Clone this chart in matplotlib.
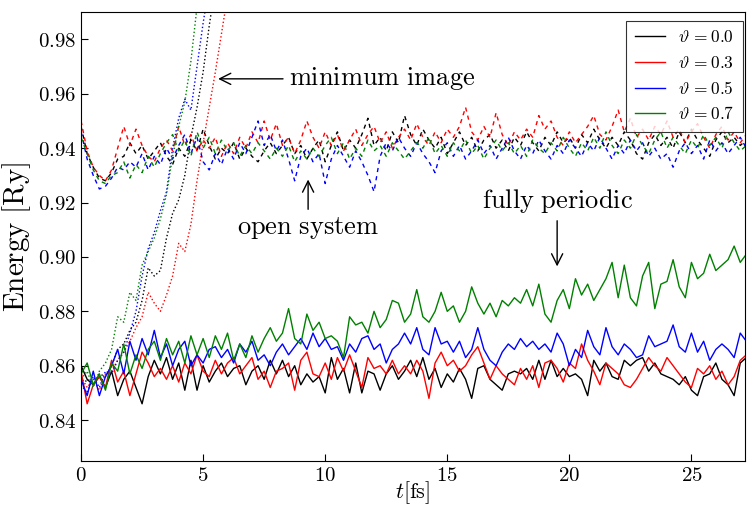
import matplotlib
matplotlib.use('Agg')
import matplotlib.pyplot as plt
from matplotlib.ticker import FuncFormatter
import numpy as np

plt.rcParams['mathtext.fontset'] = 'cm'
plt.rcParams['font.family'] = 'serif'

# time grid [fs], 0.25 fs steps
t = np.arange(110) * 0.25
t_min = np.arange(25) * 0.25

theta_labels = ['0.0', '0.3', '0.5', '0.7']
colors = ['black', 'red', 'blue', 'green']

# fully periodic (solid)
periodic_00 = [0.860, 0.855, 0.853, 0.856, 0.852, 0.858, 0.849, 0.855, 0.858, 0.852,
               0.846, 0.856, 0.862, 0.857, 0.863, 0.855, 0.861, 0.851, 0.862, 0.851,
               0.860, 0.854, 0.858, 0.861, 0.856, 0.859, 0.860, 0.853, 0.858, 0.860,
               0.855, 0.862, 0.857, 0.862, 0.856, 0.860, 0.853, 0.857, 0.854, 0.856,
               0.850, 0.863, 0.855, 0.859, 0.850, 0.861, 0.850, 0.858, 0.857, 0.851,
               0.857, 0.860, 0.855, 0.858, 0.862, 0.856, 0.863, 0.855, 0.859, 0.852,
               0.857, 0.854, 0.859, 0.855, 0.848, 0.859, 0.860, 0.855, 0.853, 0.851,
               0.857, 0.858, 0.857, 0.859, 0.855, 0.862, 0.855, 0.862, 0.856, 0.859,
               0.856, 0.857, 0.855, 0.849, 0.862, 0.858, 0.861, 0.856, 0.855, 0.862,
               0.860, 0.862, 0.863, 0.858, 0.861, 0.857, 0.856, 0.855, 0.853, 0.856,
               0.851, 0.849, 0.856, 0.857, 0.861, 0.855, 0.853, 0.849, 0.861, 0.863]
periodic_03 = [0.858, 0.846, 0.853, 0.856, 0.852, 0.862, 0.854, 0.858, 0.849, 0.857,
               0.865, 0.861, 0.856, 0.859, 0.855, 0.860, 0.854, 0.861, 0.857, 0.864,
               0.858, 0.856, 0.862, 0.857, 0.861, 0.863, 0.857, 0.860, 0.863, 0.855,
               0.858, 0.852, 0.858, 0.859, 0.861, 0.851, 0.862, 0.865, 0.857, 0.856,
               0.861, 0.855, 0.863, 0.858, 0.864, 0.858, 0.852, 0.863, 0.859, 0.860,
               0.857, 0.862, 0.857, 0.860, 0.857, 0.862, 0.858, 0.848, 0.861, 0.865,
               0.860, 0.862, 0.858, 0.860, 0.864, 0.867, 0.861, 0.855, 0.860, 0.857,
               0.855, 0.853, 0.859, 0.855, 0.860, 0.852, 0.861, 0.862, 0.859, 0.854,
               0.861, 0.859, 0.868, 0.862, 0.858, 0.853, 0.861, 0.859, 0.857, 0.853,
               0.852, 0.855, 0.859, 0.863, 0.860, 0.858, 0.863, 0.860, 0.857, 0.854,
               0.852, 0.859, 0.857, 0.860, 0.855, 0.858, 0.853, 0.856, 0.862, 0.864]
periodic_05 = [0.855, 0.849, 0.858, 0.849, 0.856, 0.860, 0.866, 0.857, 0.869, 0.862,
               0.870, 0.864, 0.873, 0.863, 0.868, 0.860, 0.866, 0.869, 0.860, 0.864,
               0.861, 0.866, 0.867, 0.863, 0.866, 0.861, 0.868, 0.865, 0.869, 0.862,
               0.864, 0.860, 0.865, 0.868, 0.864, 0.867, 0.870, 0.866, 0.872, 0.867,
               0.870, 0.866, 0.867, 0.862, 0.868, 0.865, 0.870, 0.871, 0.866, 0.868,
               0.861, 0.866, 0.868, 0.872, 0.868, 0.874, 0.866, 0.864, 0.874, 0.868,
               0.869, 0.865, 0.869, 0.863, 0.866, 0.874, 0.866, 0.862, 0.860, 0.865,
               0.868, 0.866, 0.870, 0.867, 0.869, 0.866, 0.868, 0.865, 0.872, 0.868,
               0.860, 0.866, 0.863, 0.873, 0.867, 0.864, 0.874, 0.867, 0.864, 0.868,
               0.866, 0.863, 0.864, 0.871, 0.867, 0.868, 0.869, 0.875, 0.867, 0.865,
               0.872, 0.865, 0.869, 0.862, 0.866, 0.868, 0.866, 0.863, 0.872, 0.869]
periodic_07 = [0.857, 0.861, 0.853, 0.857, 0.851, 0.861, 0.858, 0.868, 0.857, 0.864,
               0.859, 0.866, 0.869, 0.862, 0.870, 0.864, 0.869, 0.861, 0.871, 0.864,
               0.870, 0.863, 0.871, 0.866, 0.872, 0.862, 0.868, 0.863, 0.871, 0.865,
               0.870, 0.874, 0.869, 0.872, 0.881, 0.870, 0.868, 0.879, 0.873, 0.876,
               0.870, 0.871, 0.869, 0.863, 0.878, 0.875, 0.876, 0.872, 0.880, 0.874,
               0.877, 0.884, 0.883, 0.876, 0.879, 0.888, 0.878, 0.876, 0.880, 0.887,
               0.880, 0.882, 0.876, 0.880, 0.889, 0.883, 0.879, 0.883, 0.878, 0.884,
               0.882, 0.885, 0.883, 0.888, 0.882, 0.890, 0.879, 0.876, 0.884, 0.888,
               0.881, 0.892, 0.886, 0.890, 0.884, 0.888, 0.892, 0.898, 0.885, 0.897,
               0.885, 0.882, 0.893, 0.898, 0.881, 0.890, 0.891, 0.899, 0.889, 0.885,
               0.898, 0.892, 0.894, 0.901, 0.895, 0.897, 0.899, 0.904, 0.898, 0.901]

# open system (dashed)
open_00 = [0.948, 0.938, 0.933, 0.929, 0.928, 0.931, 0.936, 0.937, 0.942, 0.938,
           0.941, 0.936, 0.939, 0.942, 0.937, 0.934, 0.940, 0.937, 0.943, 0.939,
           0.947, 0.941, 0.936, 0.940, 0.938, 0.942, 0.936, 0.940, 0.937, 0.935,
           0.939, 0.942, 0.938, 0.941, 0.944, 0.938, 0.941, 0.936, 0.940, 0.943,
           0.935, 0.941, 0.946, 0.939, 0.943, 0.940, 0.945, 0.951, 0.941, 0.944,
           0.939, 0.946, 0.942, 0.952, 0.945, 0.941, 0.947, 0.943, 0.940, 0.944,
           0.938, 0.942, 0.946, 0.941, 0.944, 0.939, 0.943, 0.945, 0.940, 0.943,
           0.939, 0.944, 0.941, 0.946, 0.942, 0.939, 0.944, 0.941, 0.946, 0.942,
           0.944, 0.940, 0.945, 0.942, 0.947, 0.943, 0.940, 0.944, 0.941, 0.946,
           0.943, 0.938, 0.936, 0.942, 0.945, 0.941, 0.944, 0.940, 0.946, 0.942,
           0.947, 0.943, 0.940, 0.937, 0.943, 0.946, 0.942, 0.944, 0.941, 0.943]
open_03 = [0.950, 0.939, 0.933, 0.930, 0.928, 0.932, 0.940, 0.948, 0.941, 0.947,
           0.941, 0.937, 0.935, 0.940, 0.943, 0.939, 0.948, 0.941, 0.945, 0.939,
           0.943, 0.940, 0.944, 0.937, 0.942, 0.938, 0.944, 0.940, 0.946, 0.942,
           0.950, 0.943, 0.949, 0.941, 0.944, 0.938, 0.943, 0.950, 0.944, 0.940,
           0.946, 0.941, 0.945, 0.939, 0.943, 0.947, 0.941, 0.945, 0.948, 0.942,
           0.946, 0.940, 0.944, 0.947, 0.943, 0.949, 0.944, 0.941, 0.946, 0.942,
           0.947, 0.944, 0.948, 0.955, 0.946, 0.943, 0.948, 0.944, 0.953, 0.945,
           0.941, 0.946, 0.943, 0.947, 0.944, 0.952, 0.947, 0.950, 0.944, 0.941,
           0.946, 0.942, 0.945, 0.948, 0.952, 0.945, 0.943, 0.948, 0.954, 0.946,
           0.951, 0.944, 0.947, 0.943, 0.948, 0.945, 0.950, 0.944, 0.947, 0.942,
           0.946, 0.949, 0.944, 0.940, 0.945, 0.948, 0.943, 0.946, 0.942, 0.945]
open_05 = [0.946, 0.936, 0.930, 0.925, 0.926, 0.929, 0.933, 0.932, 0.935, 0.933,
           0.938, 0.932, 0.937, 0.934, 0.940, 0.936, 0.941, 0.945, 0.938, 0.944,
           0.935, 0.932, 0.938, 0.934, 0.940, 0.936, 0.942, 0.938, 0.944, 0.950,
           0.941, 0.945, 0.939, 0.943, 0.936, 0.928, 0.937, 0.940, 0.935, 0.938,
           0.927, 0.936, 0.941, 0.937, 0.933, 0.939, 0.935, 0.930, 0.924, 0.937,
           0.942, 0.939, 0.944, 0.940, 0.937, 0.942, 0.938, 0.935, 0.931, 0.939,
           0.942, 0.937, 0.941, 0.936, 0.939, 0.943, 0.938, 0.941, 0.936, 0.940,
           0.944, 0.939, 0.936, 0.941, 0.938, 0.943, 0.939, 0.936, 0.941, 0.938,
           0.943, 0.940, 0.937, 0.942, 0.939, 0.944, 0.940, 0.936, 0.941, 0.938,
           0.943, 0.939, 0.942, 0.937, 0.940, 0.936, 0.938, 0.933, 0.939, 0.942,
           0.938, 0.941, 0.936, 0.943, 0.939, 0.942, 0.938, 0.941, 0.944, 0.940]
open_07 = [0.944, 0.938, 0.932, 0.928, 0.927, 0.930, 0.931, 0.935, 0.929, 0.934,
           0.931, 0.937, 0.933, 0.938, 0.942, 0.945, 0.939, 0.943, 0.937, 0.946,
           0.940, 0.944, 0.938, 0.943, 0.939, 0.942, 0.937, 0.941, 0.938, 0.942,
           0.939, 0.936, 0.940, 0.937, 0.941, 0.935, 0.939, 0.936, 0.940, 0.937,
           0.941, 0.944, 0.938, 0.942, 0.936, 0.940, 0.937, 0.943, 0.939, 0.941,
           0.937, 0.942, 0.939, 0.936, 0.939, 0.942, 0.940, 0.944, 0.938, 0.941,
           0.937, 0.942, 0.939, 0.943, 0.938, 0.941, 0.936, 0.940, 0.943, 0.939,
           0.942, 0.938, 0.941, 0.937, 0.943, 0.940, 0.938, 0.942, 0.939, 0.944,
           0.940, 0.937, 0.942, 0.939, 0.944, 0.940, 0.946, 0.941, 0.938, 0.943,
           0.940, 0.945, 0.941, 0.938, 0.943, 0.946, 0.940, 0.944, 0.941, 0.938,
           0.943, 0.940, 0.945, 0.941, 0.944, 0.940, 0.946, 0.942, 0.939, 0.941]

# minimum image (dotted), runs off the top of the plot
minimg_00 = [0.852, 0.855, 0.853, 0.857, 0.856, 0.860, 0.866, 0.868, 0.873, 0.876,
             0.884, 0.896, 0.893, 0.895, 0.907, 0.916, 0.921, 0.930, 0.944, 0.955,
             0.968, 0.985, 1.000, 1.010, 1.020]
minimg_03 = [0.856, 0.852, 0.855, 0.851, 0.857, 0.858, 0.862, 0.865, 0.869, 0.874,
             0.878, 0.887, 0.883, 0.880, 0.886, 0.893, 0.905, 0.902, 0.912, 0.928,
             0.942, 0.955, 0.968, 0.982, 0.996]
minimg_05 = [0.853, 0.850, 0.856, 0.852, 0.858, 0.857, 0.862, 0.865, 0.872, 0.880,
             0.893, 0.903, 0.909, 0.917, 0.924, 0.940, 0.951, 0.958, 0.954, 0.970,
             0.986, 1.000, 1.010, 1.020, 1.030]
minimg_07 = [0.855, 0.858, 0.852, 0.858, 0.861, 0.866, 0.878, 0.876, 0.887, 0.884,
             0.897, 0.902, 0.907, 0.914, 0.923, 0.937, 0.948, 0.957, 0.972, 0.992,
             1.005, 1.015, 1.025, 1.035, 1.045]

periodic = [periodic_00, periodic_03, periodic_05, periodic_07]
open_sys = [open_00, open_03, open_05, open_07]
minimg = [minimg_00, minimg_03, minimg_05, minimg_07]

fig = plt.figure(figsize=(7.47, 5.09), dpi=100)
ax = fig.add_axes([0.1085, 0.0945, 0.889, 0.8815])

for i in range(4):
    ax.plot(t, periodic[i], '-', color=colors[i], lw=1.0,
            label=r'$\vartheta\,{=}%s$' % theta_labels[i])
    ax.plot(t, open_sys[i], '--', color=colors[i], lw=1.0, dashes=(3, 3))
    ax.plot(t_min, minimg[i], ':', color=colors[i], lw=1.0)

ax.set_xlim(0, 27.2)
ax.set_ylim(0.825, 0.99)
ax.set_xticks([0, 5, 10, 15, 20, 25])
ax.set_yticks([0.84, 0.86, 0.88, 0.90, 0.92, 0.94, 0.96, 0.98])
ax.xaxis.set_major_formatter(FuncFormatter(lambda v, p: r'$%d$' % v))
ax.yaxis.set_major_formatter(FuncFormatter(lambda v, p: r'$%.2f$' % v))
ax.tick_params(direction='in', length=5, labelsize=15, top=False, right=False)

ax.set_xlabel(r'$t[\mathrm{fs}]$', fontsize=16, labelpad=-4)
ax.set_ylabel(r'$\mathrm{Energy\ [Ry]}$', fontsize=21, labelpad=3)

ax.annotate(r'$\mathrm{minimum\ image}$', xy=(5.5, 0.9655), xytext=(8.5, 0.9655),
            fontsize=19, va='center', ha='left',
            arrowprops=dict(arrowstyle='->', color='black', lw=1, mutation_scale=20))
ax.annotate(r'$\mathrm{open\ system}$', xy=(9.3, 0.9295), xytext=(9.3, 0.9107),
            fontsize=19, va='center', ha='center',
            arrowprops=dict(arrowstyle='->', color='black', lw=1, mutation_scale=20,
                            shrinkA=2))
ax.annotate(r'$\mathrm{fully\ periodic}$', xy=(19.5, 0.8955), xytext=(19.5, 0.9205),
            fontsize=19, va='center', ha='center',
            arrowprops=dict(arrowstyle='->', color='black', lw=1, mutation_scale=20,
                            shrinkA=2))

leg = ax.legend(loc='upper right', bbox_to_anchor=(1.0, 0.985), fontsize=12.5,
                fancybox=False, borderaxespad=0.1, handlelength=1.7,
                handletextpad=0.8, labelspacing=0.5, borderpad=0.5)
leg.get_frame().set_edgecolor('black')
leg.get_frame().set_linewidth(0.8)

fig.savefig('out.png', dpi=100)
